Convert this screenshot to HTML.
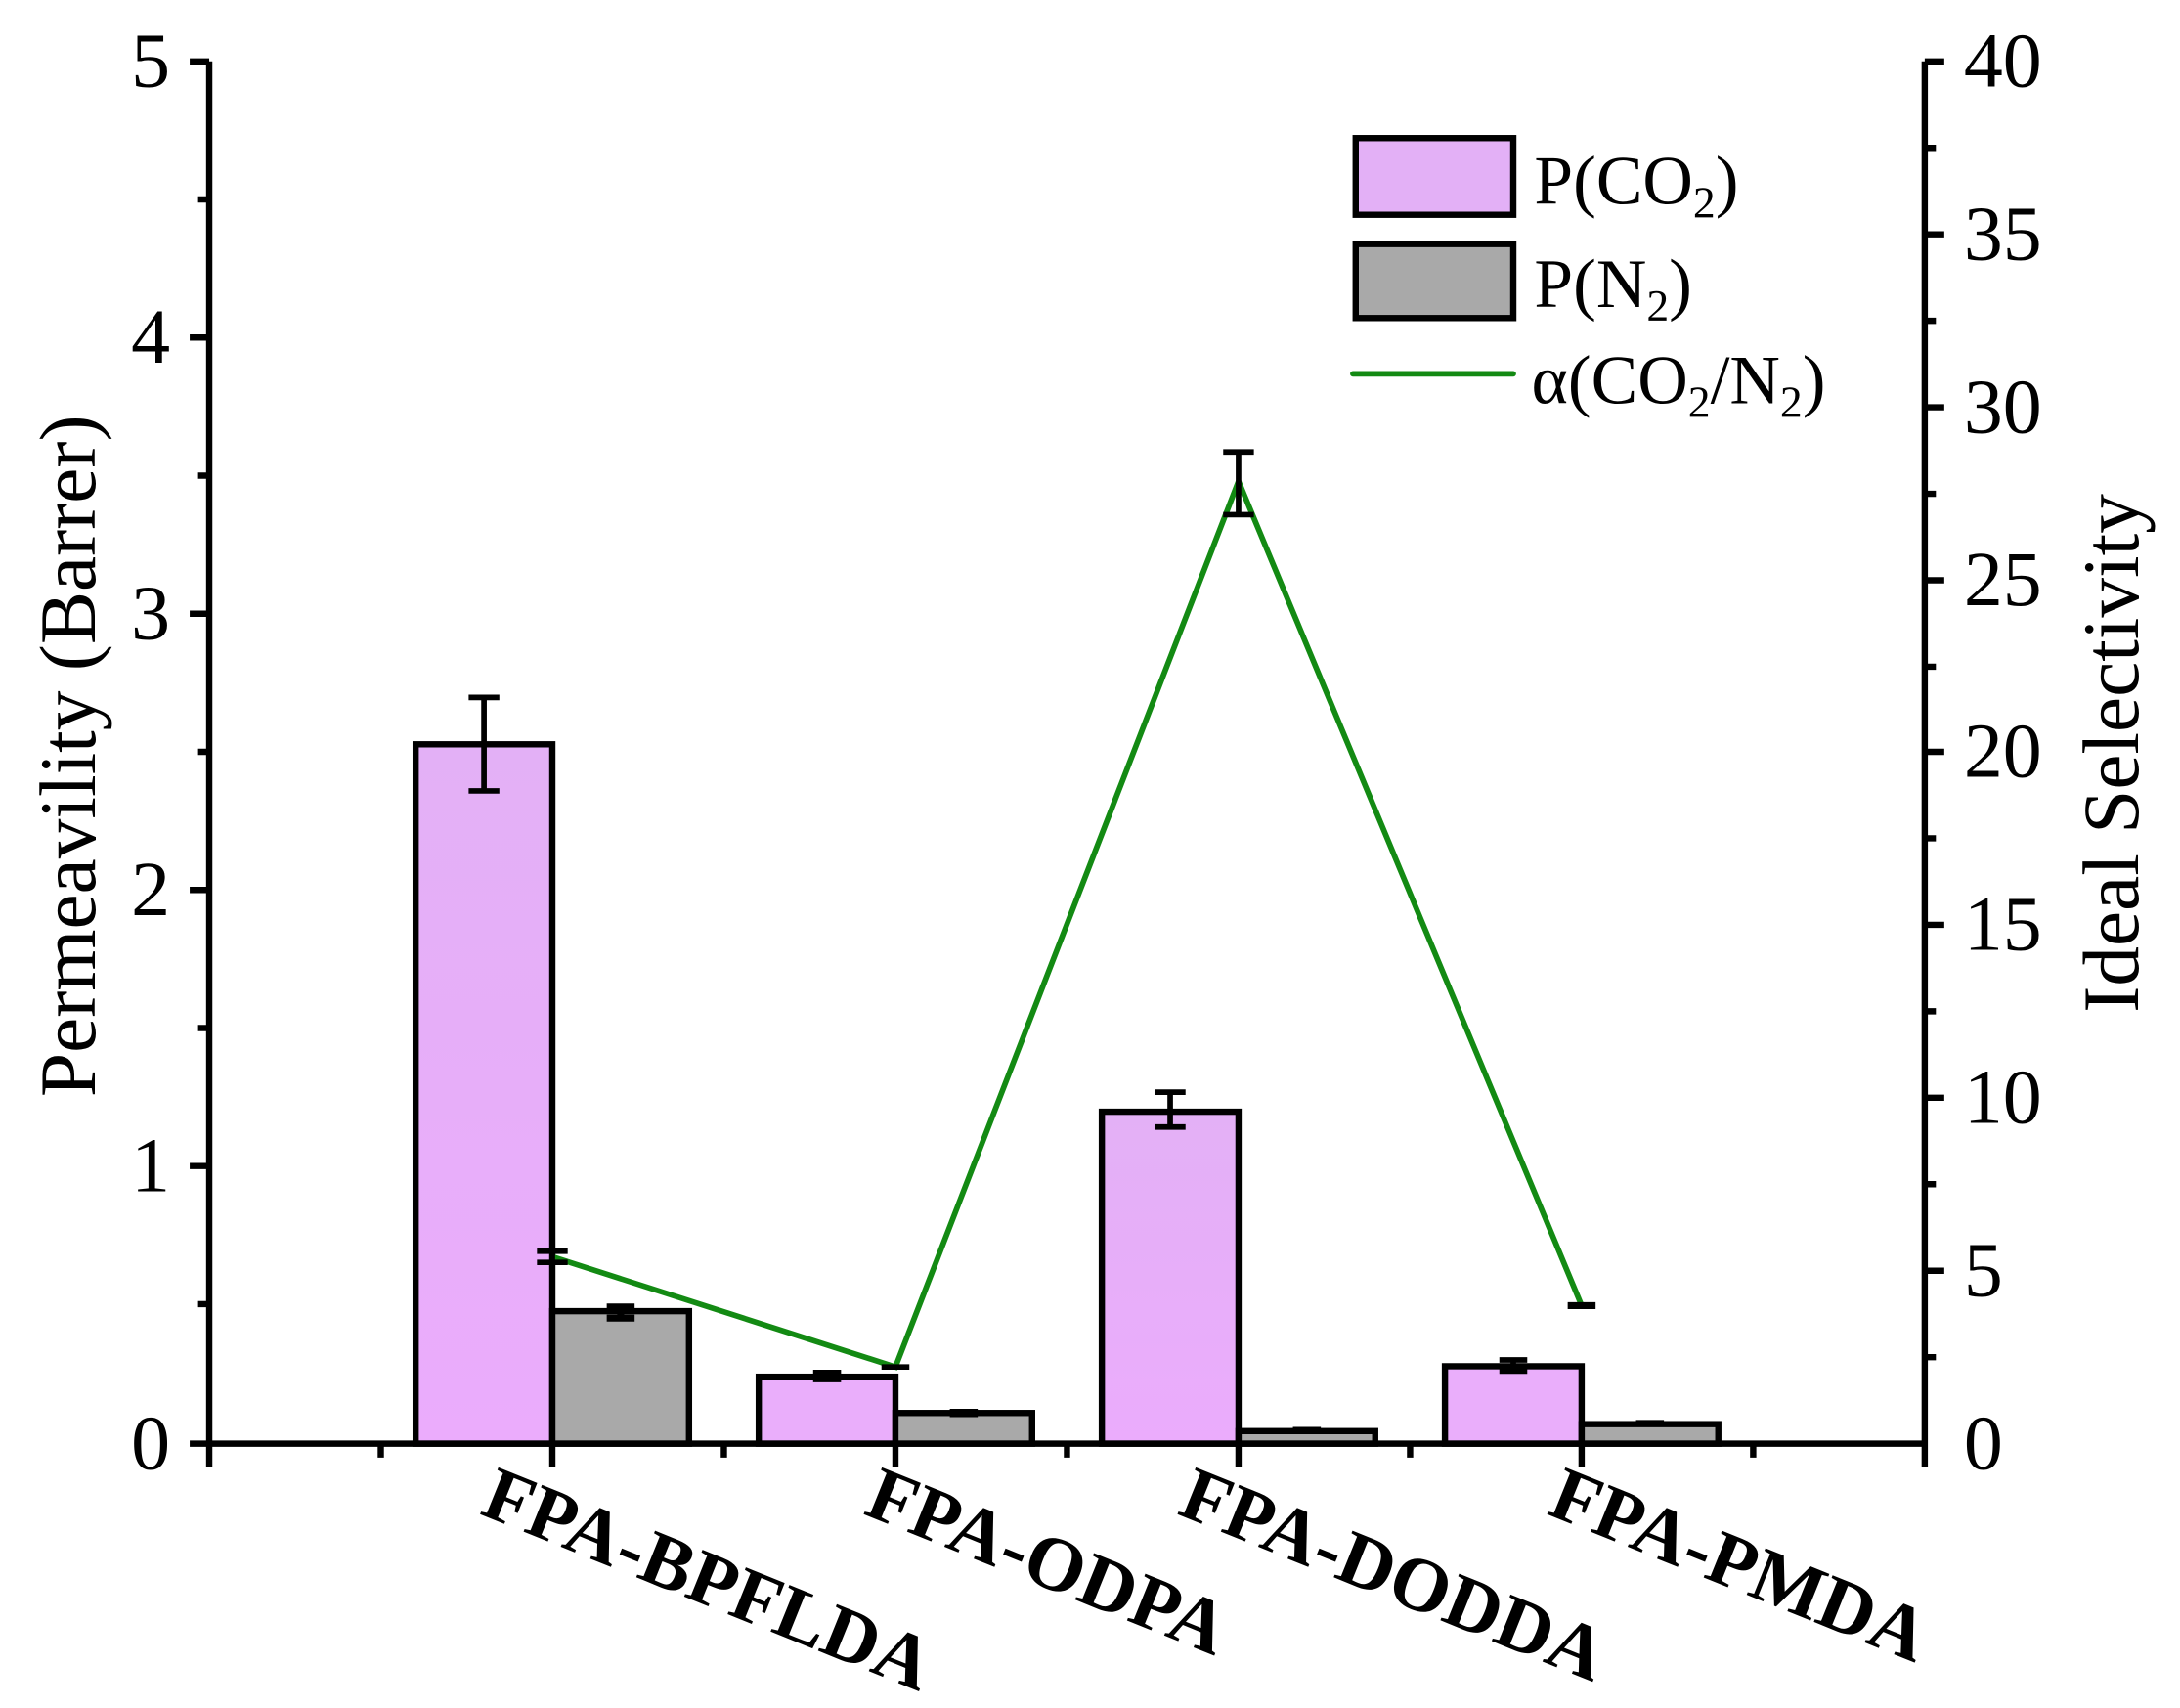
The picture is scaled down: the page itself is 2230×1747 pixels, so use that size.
<!DOCTYPE html>
<html><head><meta charset="utf-8"><style>html,body{margin:0;padding:0;background:#fff}svg{display:block}text{font-family:"Liberation Serif","Times New Roman",Times,serif}</style></head>
<body>
<svg width="2230" height="1747" viewBox="0 0 1563 1224.5" xmlns="http://www.w3.org/2000/svg">
<defs>
<linearGradient id="pk" x1="0" y1="0" x2="0" y2="1"><stop offset="0" stop-color="#e3b0f6"/><stop offset="1" stop-color="#ebacfc"/></linearGradient>
</defs>
<g stroke="#000" stroke-width="4.5">
<rect x="298" y="533.6" width="98" height="501.4" fill="url(#pk)"/>
<rect x="544" y="987" width="98" height="48" fill="#eaaefb"/>
<rect x="790" y="797" width="98" height="238" fill="url(#pk)"/>
<rect x="1036" y="979.5" width="98" height="55.5" fill="#eaaefb"/>
<rect x="396" y="940" width="98" height="95" fill="#a9a9a9"/>
<rect x="642" y="1013" width="98" height="22" fill="#a9a9a9"/>
<rect x="888" y="1026" width="98" height="9" fill="#a9a9a9"/>
<rect x="1134" y="1021" width="98" height="14" fill="#a9a9a9"/>
</g>
<g stroke="#000" stroke-width="4" fill="none">
<path d="M347 500V567M336 500H358M336 567H358"/>
<path d="M593 984V989M583 984H603M583 989H603"/>
<path d="M839 783V808M828 783H850M828 808H850"/>
<path d="M1085 975V983M1075 975H1095M1075 983H1095"/>
<path d="M445 937V945M435 937H455M435 945H455" stroke-width="5"/>
<path d="M691 1012V1014M681 1012H701M681 1014H701"/>
<path d="M937 1025V1027M927 1025H947"/>
<path d="M1183 1020V1022M1173 1020H1193"/>
</g>
<polyline points="396,901 642,980 888,345 1134,936" fill="none" stroke="#138a13" stroke-width="4"/>
<g stroke="#000" stroke-width="4" fill="none">
<path d="M396 897V905M385 897H407M385 905H407"/>
<path d="M632 980H652"/>
<path d="M888 324V369M877 324H899M877 369H899"/>
<path d="M1124 936H1144" stroke-width="5"/>
</g>
<g stroke="#000" stroke-width="4.5" fill="none">
<path d="M150 44V1052M1380 44V1052M136 1035H1380"/>
<path d="M136 44H150M136 242H150M136 440H150M136 638H150M136 836H150"/>
<path d="M142 143H150M142 341H150M142 539H150M142 737H150M142 935H150"/>
<path d="M1380 44H1394M1380 168H1394M1380 292H1394M1380 416H1394M1380 539H1394M1380 663H1394M1380 787H1394M1380 911H1394"/>
<path d="M1380 106H1388M1380 230H1388M1380 354H1388M1380 478H1388M1380 601H1388M1380 725H1388M1380 849H1388M1380 973H1388"/>
<path d="M396 1035V1052M642 1035V1052M888 1035V1052M1134 1035V1052"/>
<path d="M273 1035V1045M519 1035V1045M765 1035V1045M1011 1035V1045M1257 1035V1045"/>
</g>
<g font-size="56" text-anchor="end">
<text x="122" y="62">5</text><text x="122" y="260">4</text><text x="122" y="458">3</text><text x="122" y="656">2</text><text x="122" y="854">1</text><text x="122" y="1053">0</text>
</g>
<g font-size="56" text-anchor="start">
<text x="1408" y="62">40</text><text x="1408" y="186">35</text><text x="1408" y="310">30</text><text x="1408" y="434">25</text><text x="1408" y="557">20</text><text x="1408" y="681">15</text><text x="1408" y="805">10</text><text x="1408" y="929">5</text><text x="1408" y="1053">0</text>
</g>
<text transform="translate(68,542) rotate(-90)" font-size="57" text-anchor="middle">Permeavility (Barrer)</text>
<text transform="translate(1533,540) rotate(-90)" font-size="57" text-anchor="middle">Ideal Selectivity</text>
<g font-size="55" font-weight="bold">
<text transform="translate(343,1085) rotate(22)">FPA-BPFLDA</text>
<text transform="translate(618,1085) rotate(22)">FPA-ODPA</text>
<text transform="translate(843,1085) rotate(22)">FPA-DODDA</text>
<text transform="translate(1108,1085) rotate(22)">FPA-PMDA</text>
</g>
<rect x="972" y="99" width="113" height="55" fill="#e3b0f6" stroke="#000" stroke-width="4.5"/>
<rect x="972" y="175" width="113" height="53" fill="#a9a9a9" stroke="#000" stroke-width="4.5"/>
<path d="M970 268H1085" stroke="#138a13" stroke-width="4" stroke-linecap="round"/>
<g font-size="50">
<text x="1100" y="146">P(CO<tspan font-size="32" dy="10">2</tspan><tspan dy="-10">)</tspan></text>
<text x="1100" y="220">P(N<tspan font-size="32" dy="10">2</tspan><tspan dy="-10">)</tspan></text>
<text x="1098" y="289">α(CO<tspan font-size="32" dy="10">2</tspan><tspan dy="-10">/N</tspan><tspan font-size="32" dy="10">2</tspan><tspan dy="-10">)</tspan></text>
</g>
</svg>
</body></html>
